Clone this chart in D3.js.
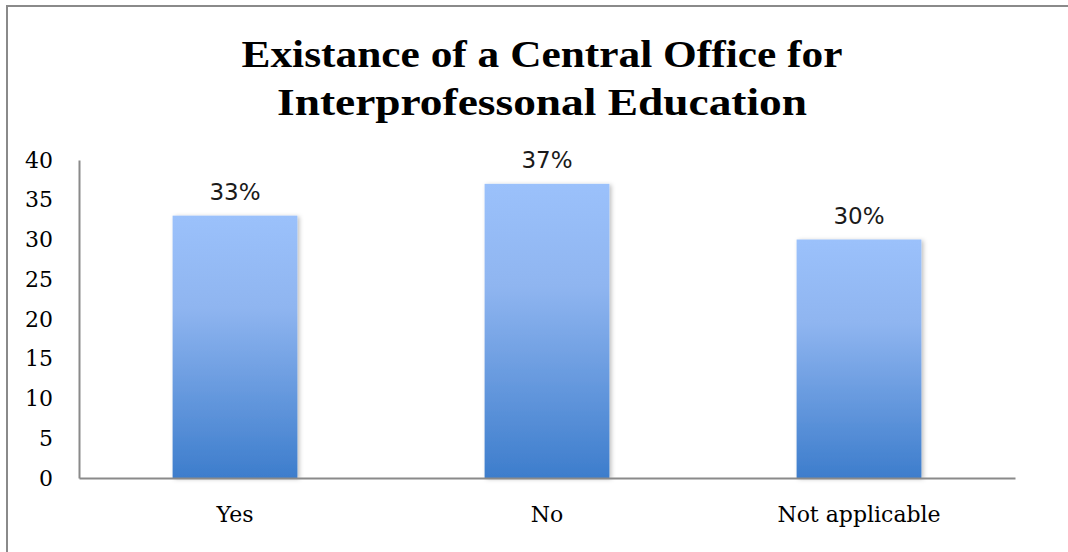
<!DOCTYPE html>
<html>
<head>
<meta charset="utf-8">
<script src="https://cdn.jsdelivr.net/npm/d3@7"></script>
<style>
  html, body { margin: 0; padding: 0; background: #fff; }
  svg { display: block; }
</style>
</head>
<body>
<svg id="chart" width="1068" height="552"></svg>
<script>
// Chart data
const categories = ["Yes", "No", "Not applicable"];
const values = [33, 37, 30];
const valueLabels = ["33%", "37%", "30%"];
const yTicks = [0, 5, 10, 15, 20, 25, 30, 35, 40];
const titleLines = ["Existance of a Central Office for", "Interprofessonal Education"];
const titleWidths = [601, 530];

const svg = d3.select("#chart");

// Frame
svg.append("rect")
  .attr("x", 7).attr("y", 6)
  .attr("width", 1200).attr("height", 700)
  .attr("fill", "#fff")
  .attr("stroke", "#8a8a8a")
  .attr("stroke-width", 2);

// Bar gradient and soft shadow
const defs = svg.append("defs");
const grad = defs.append("linearGradient")
  .attr("id", "barFill")
  .attr("x1", 0).attr("y1", 0).attr("x2", 0).attr("y2", 1);
grad.append("stop").attr("offset", "0%").attr("stop-color", "#9bc1fb");
grad.append("stop").attr("offset", "35%").attr("stop-color", "#8fb5f0");
grad.append("stop").attr("offset", "100%").attr("stop-color", "#3d7dcc");

const shadow = defs.append("filter")
  .attr("id", "barShadow")
  .attr("x", "-10%").attr("y", "-10%")
  .attr("width", "130%").attr("height", "130%");
shadow.append("feDropShadow")
  .attr("dx", 2).attr("dy", 1)
  .attr("stdDeviation", 2)
  .attr("flood-color", "#000")
  .attr("flood-opacity", 0.25);

// Scales
const x = d3.scaleBand()
  .domain(categories)
  .range([79, 1015])
  .paddingInner(0.6)
  .paddingOuter(0.3);

const y = d3.scaleLinear()
  .domain([0, 40])
  .range([478, 160]);

// Title
svg.append("g")
  .selectAll("text")
  .data(titleLines)
  .join("text")
  .attr("x", 542)
  .attr("y", (d, i) => 67 + i * 48)
  .attr("text-anchor", "middle")
  .attr("font-family", "'Liberation Serif', 'Times New Roman', serif")
  .attr("font-weight", "bold")
  .attr("font-size", 38)
  .attr("fill", "#000")
  .attr("textLength", (d, i) => titleWidths[i])
  .attr("lengthAdjust", "spacingAndGlyphs")
  .text(d => d);

// Bars
svg.append("g")
  .selectAll("rect")
  .data(categories)
  .join("rect")
  .attr("x", d => x(d))
  .attr("y", (d, i) => y(values[i]))
  .attr("width", x.bandwidth())
  .attr("height", (d, i) => y(0) - y(values[i]))
  .attr("fill", "url(#barFill)")
  .attr("filter", "url(#barShadow)");

// Y axis
const yAxis = svg.append("g")
  .attr("transform", "translate(79,0)")
  .call(d3.axisLeft(y).tickValues(yTicks).tickSize(0).tickSizeOuter(0).tickPadding(26));
yAxis.select(".domain").attr("stroke", "#8a8a8a").attr("stroke-width", 2);
yAxis.selectAll("text")
  .attr("font-family", "'DejaVu Serif', serif")
  .attr("font-size", 22)
  .attr("fill", "#000");

// X axis
const xAxis = svg.append("g")
  .attr("transform", "translate(0,478)")
  .call(d3.axisBottom(x).tickSize(0).tickSizeOuter(0).tickPadding(28));
xAxis.select(".domain").attr("stroke", "#8a8a8a").attr("stroke-width", 2);
xAxis.selectAll("text")
  .attr("font-family", "'DejaVu Serif', serif")
  .attr("font-size", 22)
  .attr("fill", "#000");

// Value labels
svg.append("g")
  .selectAll("text")
  .data(categories)
  .join("text")
  .attr("x", d => x(d) + x.bandwidth() / 2)
  .attr("y", (d, i) => y(values[i]) - 16)
  .attr("text-anchor", "middle")
  .attr("font-family", "'DejaVu Sans', sans-serif")
  .attr("font-size", 23)
  .attr("fill", "#1a1a1a")
  .text((d, i) => valueLabels[i]);
</script>
</body>
</html>
